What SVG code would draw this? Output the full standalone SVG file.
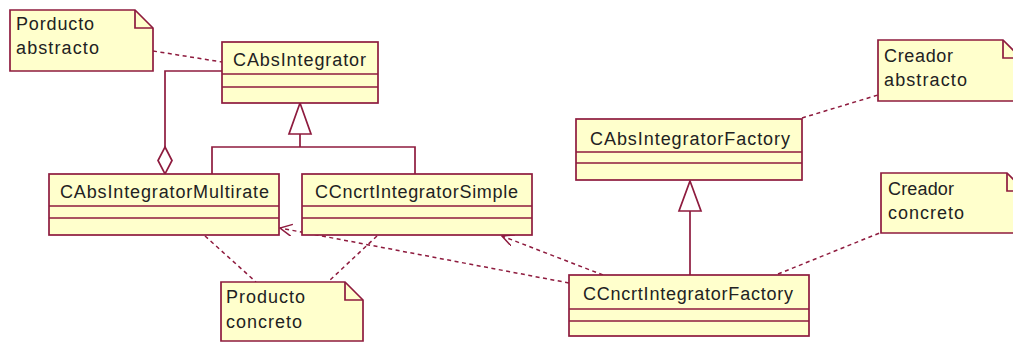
<svg xmlns="http://www.w3.org/2000/svg" width="1013" height="343" viewBox="0 0 1013 343">
<style>
.box{fill:#FFFFCC;stroke:#8E1B3E;stroke-width:1.7}
.ln{fill:none;stroke:#8E1B3E;stroke-width:1.7}
.dash{fill:none;stroke:#8E1B3E;stroke-width:1.5;stroke-dasharray:4 3.5}
.t{font-family:"Liberation Sans",Arial,sans-serif;font-size:18px;fill:#222}
</style>
<defs>
<marker id="open" markerUnits="userSpaceOnUse" markerWidth="14" markerHeight="14" refX="12" refY="6" orient="auto">
<path d="M0,0 L12,6 L0,12" fill="none" stroke="#8E1B3E" stroke-width="1.5" stroke-dasharray="none"/>
</marker>
</defs>
<rect width="1013" height="343" fill="#fff"/>
<g id="connectors">
<line class="dash" x1="153" y1="51" x2="222" y2="62"/>
<line class="dash" x1="205" y1="236" x2="256" y2="282"/>
<line class="dash" x1="377" y1="236" x2="328" y2="282"/>
<line class="dash" x1="802" y1="118" x2="878" y2="95"/>
<line class="dash" x1="778" y1="274" x2="882" y2="232"/>
<line class="dash" x1="603" y1="275" x2="502" y2="236" marker-end="url(#open)"/>
<line class="dash" x1="569" y1="283" x2="280" y2="228" marker-end="url(#open)"/>
<polyline class="ln" points="222,71 165,71 165,147"/>
<polygon class="ln" style="fill:#fff" points="165,147 172,160.5 165,174 158,160.5"/>
<polyline class="ln" points="212,174 212,147 415,147 415,174"/>
<line class="ln" x1="300" y1="134" x2="300" y2="147"/>
<polygon class="ln" style="fill:#fff" points="300,103 311,134 289,134"/>
<line class="ln" x1="690" y1="211" x2="690" y2="275"/>
<polygon class="ln" style="fill:#fff" points="690,181 701,211 679,211"/>
</g>
<g id="note-porducto-abstracto">
<path class="box" d="M10,10 H135 L153,28 V71 H10 Z"/>
<path class="ln" d="M135,10 V28 H153"/>
<text class="t" x="16" y="30" textLength="78">Porducto</text>
<text class="t" x="16" y="54" textLength="83">abstracto</text>
</g>
<g id="CAbsIntegrator">
<rect class="box" x="222" y="42" width="156" height="61"/>
<line class="ln" x1="222" y1="74" x2="378" y2="74"/>
<line class="ln" x1="222" y1="87" x2="378" y2="87"/>
<text class="t" x="233" y="66" textLength="133">CAbsIntegrator</text>
</g>
<g id="CAbsIntegratorMultirate">
<rect class="box" x="49" y="174" width="230" height="61"/>
<line class="ln" x1="49" y1="206" x2="279" y2="206"/>
<line class="ln" x1="49" y1="218" x2="279" y2="218"/>
<text class="t" x="60" y="198" textLength="209">CAbsIntegratorMultirate</text>
</g>
<g id="CCncrtIntegratorSimple">
<rect class="box" x="302" y="174" width="230" height="61"/>
<line class="ln" x1="302" y1="206" x2="532" y2="206"/>
<line class="ln" x1="302" y1="218" x2="532" y2="218"/>
<text class="t" x="315" y="198" textLength="203">CCncrtIntegratorSimple</text>
</g>
<g id="note-producto-concreto">
<path class="box" d="M221,282 H345 L363,300 V341 H221 Z"/>
<path class="ln" d="M345,282 V300 H363"/>
<text class="t" x="226" y="303" textLength="79">Producto</text>
<text class="t" x="226" y="328" textLength="76">concreto</text>
</g>
<g id="CAbsIntegratorFactory">
<rect class="box" x="576" y="119" width="226" height="61"/>
<line class="ln" x1="576" y1="152" x2="802" y2="152"/>
<line class="ln" x1="576" y1="163" x2="802" y2="163"/>
<text class="t" x="590" y="145" textLength="200">CAbsIntegratorFactory</text>
</g>
<g id="CCncrtIntegratorFactory">
<rect class="box" x="569" y="275" width="240" height="61"/>
<line class="ln" x1="569" y1="309" x2="809" y2="309"/>
<line class="ln" x1="569" y1="321" x2="809" y2="321"/>
<text class="t" x="583" y="300" textLength="210">CCncrtIntegratorFactory</text>
</g>
<g id="note-creador-abstracto">
<path class="box" d="M878,40 H1003 L1021,58 V101 H878 Z"/>
<path class="ln" d="M1003,40 V58 H1021"/>
<text class="t" x="884" y="62" textLength="69">Creador</text>
<text class="t" x="884" y="86" textLength="83">abstracto</text>
</g>
<g id="note-creador-concreto">
<path class="box" d="M881,173 H1007 L1025,191 V233 H881 Z"/>
<path class="ln" d="M1007,173 V191 H1025"/>
<text class="t" x="888" y="195" textLength="66">Creador</text>
<text class="t" x="888" y="219" textLength="76">concreto</text>
</g>
</svg>
